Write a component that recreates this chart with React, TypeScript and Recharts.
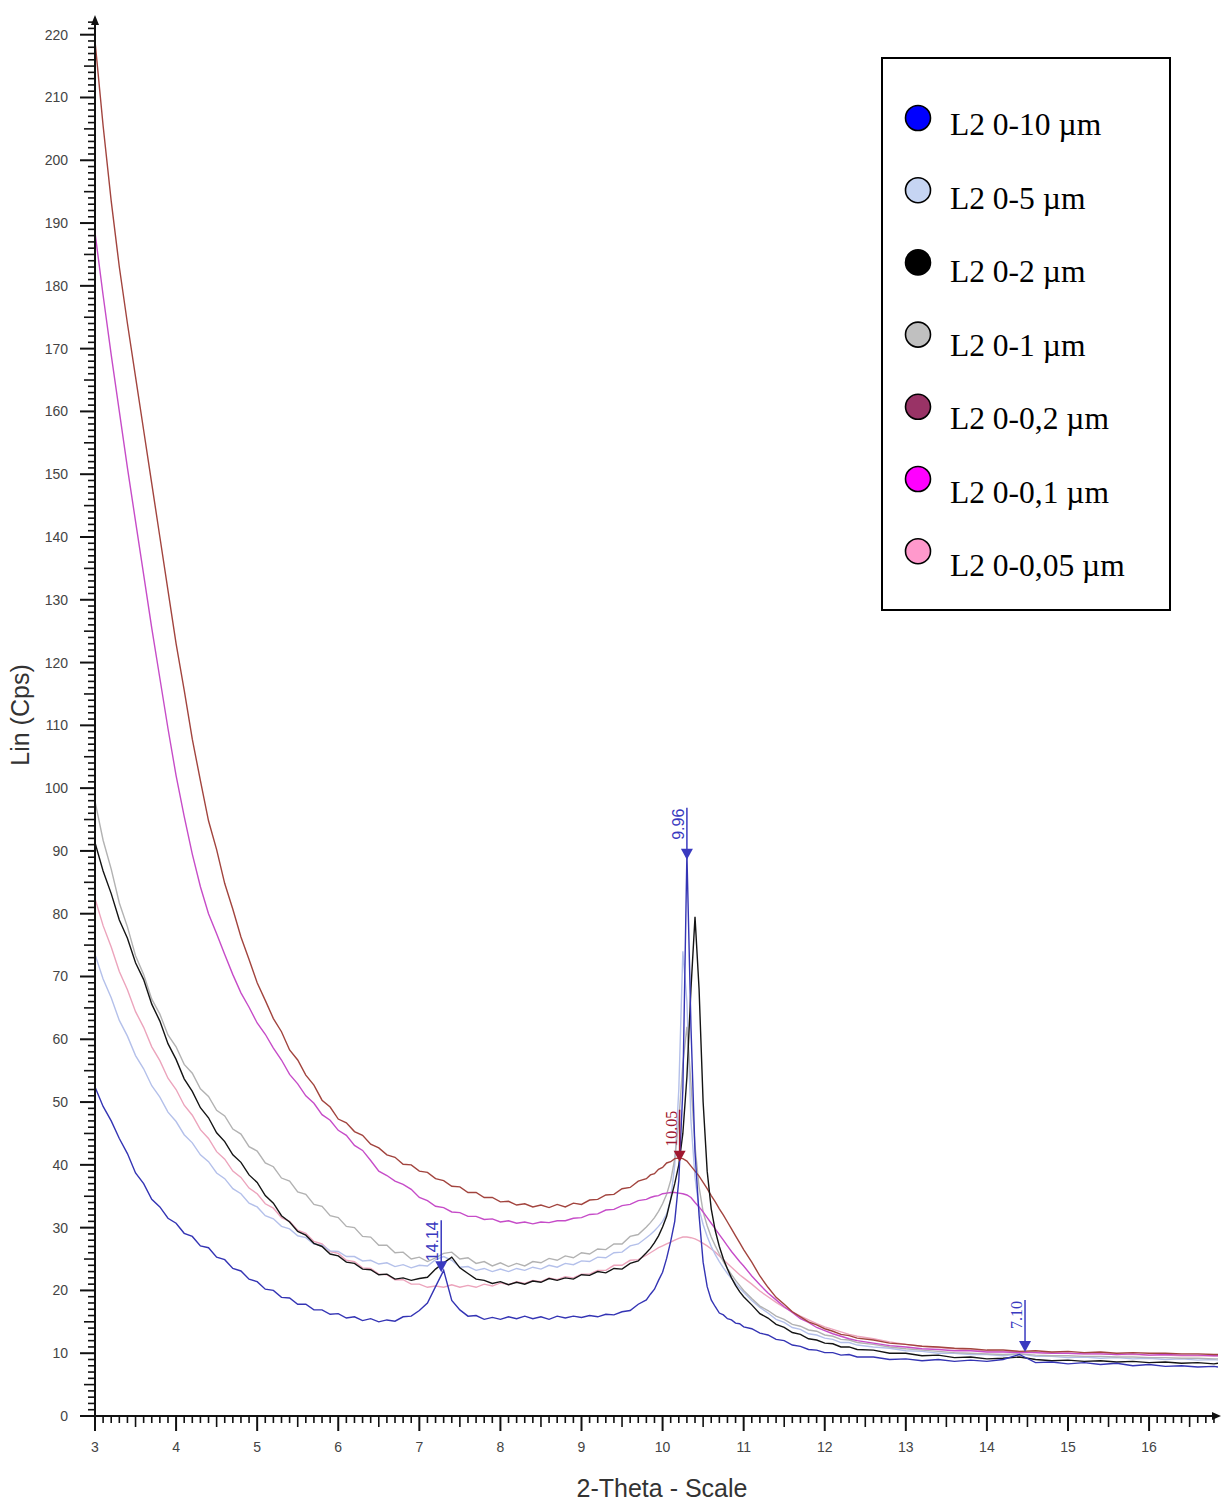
import React from "react"
import { LineChart, Line, XAxis, YAxis, Legend, ReferenceDot } from "recharts"

// 2-theta sampling positions (degrees)
const twoTheta = [
  3.0, 3.1, 3.2, 3.3, 3.4, 3.5, 3.6, 3.7, 3.8, 3.9,
  4.0, 4.1, 4.2, 4.3, 4.4, 4.5, 4.6, 4.7, 4.8, 4.9,
  5.0, 5.1, 5.2, 5.3, 5.4, 5.5, 5.6, 5.7, 5.8, 5.9,
  6.0, 6.1, 6.2, 6.3, 6.4, 6.5, 6.6, 6.7, 6.8, 6.9,
  7.0, 7.1, 7.2, 7.3, 7.4, 7.5, 7.6, 7.7, 7.8, 7.9,
  8.0, 8.1, 8.2, 8.3, 8.4, 8.5, 8.6, 8.7, 8.8, 8.9,
  9.0, 9.1, 9.2, 9.3, 9.4, 9.5, 9.6, 9.7, 9.8,
  9.85, 9.9, 9.95, 10.0, 10.05, 10.1, 10.15, 10.2, 10.25, 10.3,
  10.35, 10.4, 10.45, 10.5, 10.55, 10.6, 10.65, 10.7, 10.75, 10.8,
  10.85, 10.9, 10.95, 11.0,
  11.1, 11.2, 11.3, 11.4, 11.5, 11.6, 11.7, 11.8, 11.9, 12.0,
  12.1, 12.2, 12.3, 12.4,
  12.6, 12.8, 13.0, 13.2, 13.4, 13.6, 13.8, 14.0, 14.2, 14.4,
  14.6, 14.8, 15.0, 15.2, 15.4, 15.6, 15.8, 16.0, 16.2, 16.4,
  16.6, 16.8, 16.85,
]

// Lin (Cps) per sample
const l2_10 = [
  52.4, 49.3, 47.0, 44.2, 41.8, 38.7, 37.0, 34.5, 33.3, 31.5,
  30.7, 29.1, 28.6, 27.1, 26.8, 25.3, 24.9, 23.5, 23.1, 21.8,
  21.4, 20.2, 20.0, 18.9, 18.8, 17.8, 17.8, 16.9, 16.9, 16.2,
  16.3, 15.6, 15.8, 15.2, 15.5, 15.0, 15.3, 15.1, 15.8, 15.9,
  16.8, 18.0, 20.6, 23.2, 18.4, 16.9, 15.9, 16.0, 15.4, 15.7,
  15.4, 15.8, 15.5, 15.9, 15.5, 15.8, 15.4, 15.9, 15.6, 15.9,
  15.7, 16.0, 15.8, 16.2, 16.1, 16.6, 16.8, 17.8, 18.5,
  19.4, 20.2, 21.6, 22.9, 25.1, 27.8, 31.0, 37.5, 52.0, 89.5,
  62.0, 42.0, 32.0, 24.5, 20.6, 18.5, 17.4, 16.4, 16.1, 15.5,
  15.3, 14.8, 14.7, 14.2,
  13.9, 13.2, 12.9, 12.2, 12.0, 11.3, 11.1, 10.6, 10.5, 10.1,
  10.1, 9.7, 9.8, 9.4,
  9.4, 9.0, 9.1, 8.8, 9.0, 8.7, 8.9, 8.7, 9.0, 9.8,
  8.5, 8.6, 8.3, 8.5, 8.2, 8.4, 8.0, 8.2, 7.9, 8.0,
  7.8, 7.9, 7.8,
]

const l2_5 = [
  73.5, 69.6, 66.6, 63.0, 60.5, 57.4, 55.3, 52.6, 50.8, 48.4,
  46.9, 44.8, 43.5, 41.6, 40.5, 38.7, 37.8, 36.2, 35.4, 33.9,
  33.3, 31.9, 31.4, 30.2, 29.8, 28.7, 28.4, 27.4, 27.2, 26.3,
  26.2, 25.4, 25.4, 24.7, 24.8, 24.2, 24.4, 23.8, 24.1, 23.6,
  24.0, 23.9, 24.9, 25.4, 24.8, 23.7, 23.8, 23.2, 23.5, 23.0,
  23.4, 23.0, 23.5, 23.2, 23.7, 23.4, 24.0, 23.7, 24.3, 24.1,
  24.7, 24.6, 25.3, 25.2, 26.0, 26.1, 27.1, 27.4, 28.4,
  28.9, 29.5, 30.2, 31.0, 32.2, 34.5, 40.0, 52.0, 74.0, 66.0,
  47.0, 38.0, 33.0, 30.5, 28.6, 27.0, 25.7, 24.6, 23.6, 22.7,
  21.9, 21.1, 20.4, 19.7,
  18.4, 17.3, 16.4, 15.4, 14.9, 14.1, 13.8, 13.1, 12.9, 12.4,
  12.2, 11.7, 11.7, 11.3,
  11.0, 10.8, 10.4, 10.3, 10.0, 10.0, 9.8, 9.8, 9.6, 9.9,
  9.5, 9.5, 9.3, 9.4, 9.2, 9.3, 9.1, 9.2, 9.0, 9.1,
  8.9, 9.0, 8.9,
]

const l2_2 = [
  91.3, 86.8, 83.2, 79.0, 76.1, 72.2, 69.5, 65.6, 62.9, 59.3,
  56.8, 53.7, 51.7, 49.1, 47.5, 45.1, 43.7, 41.6, 40.4, 38.4,
  37.2, 35.1, 33.9, 31.9, 30.9, 29.4, 28.8, 27.5, 27.0, 25.8,
  25.5, 24.5, 24.3, 23.4, 23.3, 22.5, 22.6, 21.8, 22.0, 21.6,
  21.9, 22.1, 23.4, 24.4, 25.3, 23.6, 22.7, 21.8, 21.6, 21.1,
  21.4, 20.9, 21.3, 21.0, 21.5, 21.3, 21.9, 21.6, 22.0, 21.8,
  22.5, 22.4, 23.0, 22.8, 23.5, 23.4, 24.3, 24.7, 26.0,
  26.7, 27.6, 28.7, 30.1, 31.8, 34.5, 37.0, 40.0, 45.0, 54.0,
  68.0, 79.5, 68.0, 50.0, 39.0, 33.0, 29.5, 27.0, 25.0, 23.4,
  22.0, 20.8, 19.8, 19.0,
  17.7, 16.3, 15.6, 14.6, 14.1, 13.3, 13.0, 12.3, 12.1, 11.6,
  11.5, 11.0, 11.0, 10.6,
  10.5, 10.0, 10.0, 9.6, 9.7, 9.3, 9.4, 9.1, 9.2, 9.4,
  9.0, 8.8, 8.9, 8.7, 8.8, 8.6, 8.7, 8.5, 8.6, 8.4,
  8.5, 8.3, 8.4,
]

const l2_1 = [
  97.9, 91.7, 87.1, 81.7, 77.9, 73.3, 70.3, 66.4, 64.0, 60.7,
  58.8, 56.0, 54.6, 52.1, 50.9, 48.7, 47.8, 45.7, 44.9, 42.9,
  42.2, 40.3, 39.7, 37.9, 37.4, 35.7, 35.3, 33.7, 33.4, 31.9,
  31.6, 30.2, 30.0, 28.6, 28.5, 27.2, 27.2, 26.0, 26.1, 25.0,
  25.3, 24.6, 25.2, 25.9, 26.1, 25.0, 25.2, 24.3, 24.6, 23.9,
  24.4, 23.8, 24.3, 23.9, 24.6, 24.4, 25.1, 24.8, 25.5, 25.2,
  26.0, 25.8, 26.6, 26.5, 27.4, 27.4, 28.6, 28.9, 30.1,
  30.8, 31.6, 32.6, 33.8, 35.3, 37.5, 41.0, 47.0, 56.0, 62.0,
  53.0, 43.0, 36.5, 32.5, 30.3, 28.5, 27.1, 25.8, 24.6, 23.5,
  22.5, 21.6, 20.8, 20.0,
  18.7, 17.5, 16.8, 15.9, 15.4, 14.6, 14.3, 13.7, 13.5, 12.9,
  12.7, 12.2, 12.1, 11.7,
  11.4, 11.0, 10.7, 10.5, 10.3, 10.1, 10.0, 9.9, 9.8, 9.9,
  9.7, 9.6, 9.6, 9.5, 9.5, 9.4, 9.4, 9.3, 9.3, 9.2,
  9.2, 9.1, 9.1,
]

const l2_02 = [
  219.0, 205.5, 193.5, 183.0, 174.0, 165.5, 157.0, 148.5, 140.0, 131.5,
  123.0, 115.6, 107.8, 101.2, 94.8, 90.2, 84.8, 80.7, 76.3, 72.7,
  69.0, 66.2, 63.3, 61.2, 58.3, 56.7, 54.3, 52.7, 50.3, 49.2,
  47.3, 46.7, 45.3, 44.7, 43.3, 42.7, 41.6, 41.2, 40.1, 40.0,
  39.0, 38.8, 37.8, 37.5, 36.6, 36.5, 35.6, 35.6, 34.8, 34.8,
  34.1, 34.2, 33.6, 33.8, 33.3, 33.6, 33.2, 33.7, 33.3, 33.9,
  33.7, 34.4, 34.5, 35.2, 35.3, 36.2, 36.4, 37.4, 37.8,
  38.4, 38.6, 39.3, 39.6, 40.3, 40.5, 41.0, 41.1, 41.0, 40.6,
  39.8, 39.0, 38.2, 37.2, 36.2, 35.1, 34.1, 33.0, 32.0, 30.9,
  29.8, 28.7, 27.6, 26.5,
  24.5, 22.3, 20.5, 18.9, 17.8, 16.6, 15.8, 15.0, 14.5, 13.9,
  13.5, 13.0, 12.8, 12.4,
  12.1, 11.6, 11.4, 11.1, 11.0, 10.8, 10.7, 10.5, 10.5, 10.3,
  10.4, 10.2, 10.3, 10.1, 10.2, 10.0, 10.1, 10.0, 10.0, 9.9,
  9.9, 9.8, 9.8,
]

const l2_01 = [
  188.5, 178.5, 169.0, 160.0, 151.0, 142.5, 134.0, 125.5, 117.5, 109.5,
  102.0, 95.5, 89.5, 84.3, 80.0, 76.8, 73.5, 70.3, 67.4, 65.1,
  62.6, 60.8, 58.6, 56.7, 54.4, 52.9, 51.0, 49.8, 48.0, 47.1,
  45.5, 44.7, 43.1, 42.3, 40.7, 39.0, 38.3, 37.4, 36.9, 36.1,
  34.8, 34.3, 33.4, 33.2, 32.5, 32.4, 31.8, 31.8, 31.3, 31.4,
  30.9, 31.1, 30.7, 30.9, 30.6, 30.9, 30.8, 31.1, 31.1, 31.5,
  31.6, 32.1, 32.2, 32.8, 32.9, 33.5, 33.7, 34.3, 34.5,
  34.8, 35.0, 35.1, 35.4, 35.5, 35.6, 35.6, 35.5, 35.4, 35.2,
  34.8, 34.0, 33.3, 32.5, 31.6, 30.7, 29.8, 28.9, 28.0, 27.1,
  26.2, 25.4, 24.6, 23.9,
  22.3, 20.9, 19.6, 18.5, 17.4, 16.5, 15.5, 14.9, 14.1, 13.6,
  13.1, 12.7, 12.3, 12.0,
  11.6, 11.2, 11.0, 10.7, 10.6, 10.4, 10.4, 10.2, 10.2, 10.1,
  10.1, 10.0, 10.0, 9.9, 9.9, 9.8, 9.9, 9.7, 9.8, 9.7,
  9.7, 9.6, 9.6,
]

const l2_005 = [
  82.4, 78.1, 74.7, 70.8, 67.9, 64.4, 61.9, 58.8, 56.6, 53.8,
  52.0, 49.5, 47.9, 45.6, 44.2, 42.1, 40.9, 39.0, 38.0, 36.3,
  35.4, 33.8, 33.1, 31.6, 31.0, 29.6, 29.1, 27.8, 27.4, 26.2,
  25.9, 24.8, 24.6, 23.6, 23.5, 22.6, 22.5, 21.7, 21.7, 21.0,
  21.0, 20.5, 20.7, 20.5, 20.9, 20.5, 20.8, 20.5, 21.0, 20.7,
  21.2, 20.9, 21.4, 21.1, 21.6, 21.4, 22.0, 21.7, 22.2, 22.0,
  22.6, 22.6, 23.2, 23.2, 24.0, 24.0, 24.8, 24.9, 25.6,
  26.0, 26.4, 26.8, 27.1, 27.4, 27.7, 28.0, 28.3, 28.5, 28.5,
  28.4, 28.2, 27.9, 27.5, 27.1, 26.6, 26.1, 25.5, 24.9, 24.3,
  23.7, 23.1, 22.5, 22.0,
  21.0, 19.9, 19.0, 18.1, 17.3, 16.6, 15.9, 15.3, 14.7, 14.2,
  13.8, 13.4, 13.0, 12.7,
  12.3, 11.8, 11.4, 11.1, 10.9, 10.7, 10.5, 10.4, 10.3, 10.3,
  10.1, 10.0, 10.0, 9.9, 9.9, 9.8, 9.8, 9.7, 9.7, 9.6,
  9.6, 9.6, 9.6,
]

const seriesNames = ["L2 0-10 µm", "L2 0-5 µm", "L2 0-2 µm", "L2 0-1 µm", "L2 0-0,2 µm", "L2 0-0,1 µm", "L2 0-0,05 µm"]
const seriesKeys = ["s10", "s5", "s2", "s1", "s02", "s01", "s005"]
const seriesValues = [l2_10, l2_5, l2_2, l2_1, l2_02, l2_01, l2_005]
const lineColors = ["#3434b4", "#b4c0ea", "#141414", "#b2b2b2", "#a2443e", "#c64cc8", "#eca4bc"]
const legendFills = ["#0000ff", "#c6d5f3", "#000000", "#c0c0c0", "#993366", "#ff00ff", "#ff99cc"]
// back to front
const drawOrder = [6, 1, 3, 5, 4, 2, 0]

// peak markers (d-spacing labels)
const peaks = [
  { x: 7.27, y: 22.9, label: "14.14", color: "#3a3ac0", serif: false },
  { x: 10.3, y: 88.6, label: "9.96", color: "#3a3ac0", serif: false },
  { x: 10.21, y: 40.5, label: "10.05", color: "#a01830", serif: true },
  { x: 14.47, y: 10.2, label: "7.10", color: "#3a3ac0", serif: true },
]

const xDomain = [3, 16.85]
const yDomain = [0, 222.5]
const xTicks = Array.from({ length: 139 }, (_, i) => (30 + i) / 10)
const yTicks = Array.from({ length: 223 }, (_, i) => i)

const rows = twoTheta.map((x, i) => {
  const row: Record<string, number> = { x }
  seriesKeys.forEach((k, j) => {
    row[k] = seriesValues[j][i]
  })
  return row
})

const sans = "'Liberation Sans', Arial, sans-serif"
const serif = "'Liberation Serif', 'Times New Roman', serif"

function XTick(props: any) {
  const { x, y, payload } = props
  const k = Math.round(payload.value * 10)
  const major = k % 10 === 0
  const len = major ? 15 : k % 5 === 0 ? 11 : 7
  return (
    <g>
      <line x1={x} x2={x} y1={y} y2={y + len} stroke="#111" strokeWidth={major ? 2 : 1.6} />
      {major && (
        <text x={x} y={y + 36} textAnchor="middle" fontSize={14} fill="#444" fontFamily={sans}>
          {k / 10}
        </text>
      )}
    </g>
  )
}

function YTick(props: any) {
  const { x, y, payload } = props
  const v = payload.value
  const major = v % 10 === 0
  const len = major ? 15 : v % 5 === 0 ? 11 : 7
  return (
    <g>
      <line x1={x} x2={x - len} y1={y} y2={y} stroke="#111" strokeWidth={major ? 2 : 1.6} />
      {major && (
        <text x={x - 27} y={y + 5} textAnchor="end" fontSize={14} fill="#444" fontFamily={sans}>
          {v}
        </text>
      )}
    </g>
  )
}

function PeakMarker(props: any) {
  const { cx, cy, peak } = props
  const top = cy - 52
  return (
    <g>
      <line x1={cx} x2={cx} y1={top} y2={cy - 8} stroke={peak.color} strokeWidth={1.5} />
      <polygon points={`${cx - 6},${cy - 11} ${cx + 6},${cy - 11} ${cx},${cy}`} fill={peak.color} />
      <text
        transform={`translate(${cx - 3},${top + 1}) rotate(-90)`}
        textAnchor="end"
        fontSize={16}
        fill={peak.color}
        fontFamily={peak.serif ? serif : sans}
      >
        {peak.label}
      </text>
    </g>
  )
}

function AxisArrowUp(props: any) {
  const { cx, cy } = props
  return <polygon points={`${cx - 4},${cy + 6} ${cx + 4},${cy + 6} ${cx},${cy - 4}`} fill="#111" />
}

function AxisArrowRight(props: any) {
  const { cx, cy } = props
  return <polygon points={`${cx - 6},${cy - 4} ${cx - 6},${cy + 4} ${cx + 3},${cy}`} fill="#111" />
}

const renderLegend = () => (
  <svg width={290} height={555} style={{ display: "block" }}>
    <rect x={1} y={1} width={288} height={552} fill="#fff" stroke="#000" strokeWidth={2} />
    {seriesNames.map((name, i) => (
      <g key={name}>
        <circle cx={37} cy={61 + i * 72.2} r={12.5} fill={legendFills[i]} stroke="#000" strokeWidth={1.6} />
        <text x={69} y={78 + i * 73.5} fontSize={31.5} fill="#000" fontFamily={serif}>
          {name}
        </text>
      </g>
    ))}
  </svg>
)

export default function App() {
  return (
    <div style={{ position: "absolute", left: 0, top: 0, width: 1221, height: 1501, background: "#fff" }}>
      <LineChart width={1221} height={1501} data={rows} margin={{ top: 19, right: 3, bottom: 25, left: 35 }}>
        <XAxis
          type="number"
          dataKey="x"
          domain={xDomain}
          ticks={xTicks}
          interval={0}
          allowDataOverflow
          height={60}
          tickSize={0}
          tickMargin={0}
          tickLine={false}
          tick={<XTick />}
          axisLine={{ stroke: "#111", strokeWidth: 2 }}
          label={{
            content: () => (
              <text x={662} y={1497} textAnchor="middle" fontSize={25} fill="#333" fontFamily={sans}>
                2-Theta - Scale
              </text>
            ),
          }}
        />
        <YAxis
          type="number"
          domain={yDomain}
          ticks={yTicks}
          interval={0}
          allowDataOverflow
          width={60}
          tickSize={0}
          tickMargin={0}
          tickLine={false}
          tick={<YTick />}
          axisLine={{ stroke: "#111", strokeWidth: 2 }}
          label={{
            content: () => (
              <text
                transform="translate(29,715) rotate(-90)"
                textAnchor="middle"
                fontSize={25}
                fill="#333"
                fontFamily={sans}
              >
                Lin (Cps)
              </text>
            ),
          }}
        />
        <Legend
          layout="vertical"
          align="center"
          verticalAlign="middle"
          wrapperStyle={{ left: 881, top: 57, width: 290, height: 555 }}
          content={renderLegend}
        />
        {drawOrder.map((j) => (
          <Line
            key={seriesKeys[j]}
            type="linear"
            dataKey={seriesKeys[j]}
            name={seriesNames[j]}
            stroke={lineColors[j]}
            strokeWidth={1.4}
            dot={false}
            activeDot={false}
            isAnimationActive={false}
          />
        ))}
        {peaks.map((pk) => (
          <ReferenceDot
            key={pk.label}
            x={pk.x}
            y={pk.y}
            ifOverflow="visible"
            shape={(p: any) => <PeakMarker {...p} peak={pk} />}
          />
        ))}
        <ReferenceDot x={3} y={222.5} ifOverflow="visible" shape={(p: any) => <AxisArrowUp {...p} />} />
        <ReferenceDot x={16.85} y={0} ifOverflow="visible" shape={(p: any) => <AxisArrowRight {...p} />} />
      </LineChart>
    </div>
  )
}
